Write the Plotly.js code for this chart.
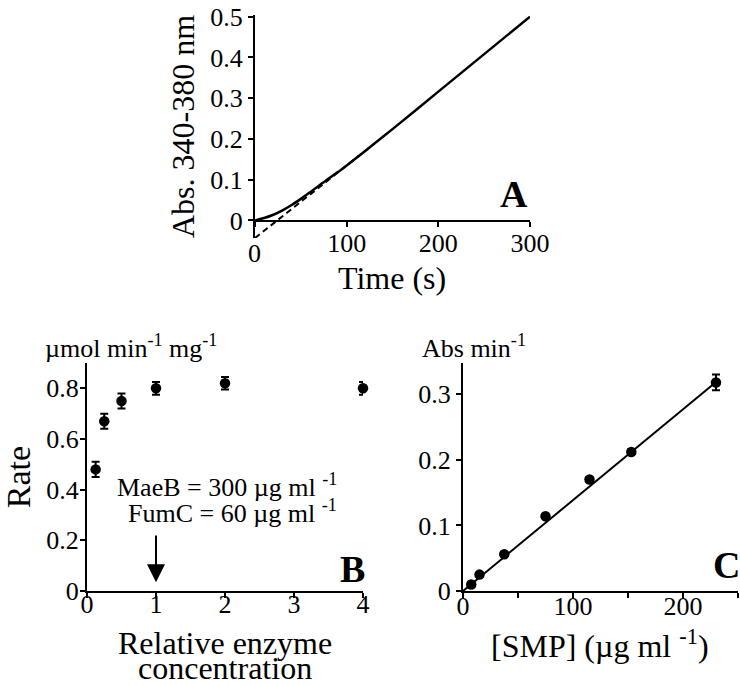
<!DOCTYPE html>
<html>
<head>
<meta charset="utf-8">
<script src="https://cdn.plot.ly/plotly-3.0.1.min.js"></script>
<style>html,body{margin:0;padding:0;background:#fff;}#chart{width:740px;height:685px;}</style>
</head>
<body>
<div id="chart"></div>
<script>
// Panel A: absorbance trace
const timeA = [0, 10, 20, 30, 40, 50, 60, 70, 80, 90, 100, 115, 130, 150, 200, 250, 300];
const absA = [0, 0.006, 0.014, 0.025, 0.038, 0.053, 0.069, 0.086, 0.102, 0.118, 0.135, 0.161, 0.188, 0.224, 0.316, 0.408, 0.500];
const timeDash = [0, 130];
const absDash = [-0.043, 0.188];
const ticksAx = [0, 100, 200, 300];
const tickTextAx = ['', '100', '200', '300'];

// Panel B: rate vs relative enzyme concentration
const relConc = [0.125, 0.25, 0.5, 1, 2, 4];
const rateB = [0.48, 0.67, 0.75, 0.80, 0.82, 0.80];
const errB = [0.03, 0.03, 0.03, 0.025, 0.025, 0.025];
const ticksBy = [0, 0.2, 0.4, 0.6, 0.8];
const ticksBx = [0, 1, 2, 3, 4];

// Panel C: rate vs [SMP]
const smp = [7.5, 15, 37.5, 75, 115, 153, 230];
const rateC = [0.010, 0.025, 0.056, 0.114, 0.170, 0.212, 0.318];
const errC = [0.003, 0.003, 0.003, 0.003, 0.003, 0.004, 0.012];
const fitX = [0, 232];
const fitY = [0, 0.3215];
const ticksCx = [0, 50, 100, 150, 200, 250];
const tickTextCx = ['0', '', '100', '', '200', ''];
const ticksCy = [0, 0.1, 0.2, 0.3];

const FONT = 'Liberation Serif, Times New Roman, serif';
const W = 740, H = 685;
const px = v => v / W;
const py = v => 1 - v / H;

const traces = [
  {x: timeA, y: absA, type: 'scatter', mode: 'lines', xaxis: 'x', yaxis: 'y',
   line: {color: '#000', width: 2.5, shape: 'spline', smoothing: 0.6}, cliponaxis: false},
  {x: timeDash, y: absDash, type: 'scatter', mode: 'lines', xaxis: 'x', yaxis: 'y',
   line: {color: '#000', width: 2, dash: '6px,4px'}, cliponaxis: false},
  {x: relConc, y: rateB, type: 'scatter', mode: 'markers', xaxis: 'x2', yaxis: 'y2',
   marker: {color: '#000', size: 10.5},
   error_y: {type: 'data', array: errB, visible: true, color: '#000', thickness: 2, width: 4},
   cliponaxis: false},
  {x: fitX, y: fitY, type: 'scatter', mode: 'lines', xaxis: 'x3', yaxis: 'y3',
   line: {color: '#000', width: 2}, cliponaxis: false},
  {x: smp, y: rateC, type: 'scatter', mode: 'markers', xaxis: 'x3', yaxis: 'y3',
   marker: {color: '#000', size: 10.5},
   error_y: {type: 'data', array: errC, visible: true, color: '#000', thickness: 2, width: 4},
   cliponaxis: false}
];

const tickFont = {family: FONT, size: 26, color: '#000'};
const titleFont = {family: FONT, size: 32, color: '#000'};
const axBase = {
  showgrid: false, zeroline: false, showline: true, linecolor: '#000', linewidth: 2,
  ticks: 'outside', ticklen: 5, tickwidth: 2, tickcolor: '#000', tickfont: tickFont,
  fixedrange: true
};
const annFont = s => ({family: FONT, size: s, color: '#000'});
const txt = (x, y, text, size, xanchor) => ({xref: 'paper', yref: 'paper', x: px(x), y: py(y), text: text,
  showarrow: false, xanchor: xanchor || 'center', yanchor: 'middle', font: annFont(size)});

const layout = {
  width: W, height: H,
  margin: {l: 0, r: 0, t: 0, b: 0},
  paper_bgcolor: '#fff', plot_bgcolor: '#fff',
  showlegend: false,
  font: {family: FONT, color: '#000'},
  xaxis: Object.assign({}, axBase, {
    domain: [px(255), px(530)], range: [0, 300], anchor: 'free', position: py(220.5),
    tickmode: 'array', tickvals: ticksAx, ticktext: tickTextAx, ticklabelstandoff: -6
  }),
  yaxis: Object.assign({}, axBase, {
    domain: [py(238), py(15)], range: [-0.043, 0.504], anchor: 'x',
    tickmode: 'linear', tick0: 0, dtick: 0.1,
    title: {text: 'Abs. 340-380 nm', font: titleFont, standoff: 6}
  }),
  xaxis2: Object.assign({}, axBase, {
    domain: [px(87), px(363)], range: [0, 4], anchor: 'y2',
    tickmode: 'array', tickvals: ticksBx, ticklabelstandoff: -16
  }),
  yaxis2: Object.assign({}, axBase, {
    domain: [py(591), py(363)], range: [0, 0.9], anchor: 'x2',
    tickmode: 'array', tickvals: ticksBy, ticklabelstandoff: -4,
    title: {text: 'Rate', font: annFont(34), standoff: 10}
  }),
  xaxis3: Object.assign({}, axBase, {
    domain: [px(463), px(738)], range: [0, 250], anchor: 'y3',
    tickmode: 'array', tickvals: ticksCx, ticktext: tickTextCx, ticklabelstandoff: -14
  }),
  yaxis3: Object.assign({}, axBase, {
    domain: [py(591), py(363)], range: [0, 0.3477], anchor: 'x3',
    tickmode: 'array', tickvals: ticksCy
  }),
  annotations: [
    txt(392, 278, 'Time (s)', 32),
    txt(225, 643, 'Relative enzyme', 32),
    txt(225, 668, 'concentration', 32),
    txt(600, 644, '[SMP] (µg ml <sup>-1</sup>)', 32),
    {xref: 'paper', yref: 'paper', x: px(514), y: py(194), text: '<b>A</b>', showarrow: false,
     xanchor: 'center', yanchor: 'middle', font: annFont(38)},
    {xref: 'paper', yref: 'paper', x: px(352), y: py(569), text: '<b>B</b>', showarrow: false,
     xanchor: 'center', yanchor: 'middle', font: annFont(38)},
    {xref: 'paper', yref: 'paper', x: px(726), y: py(565), text: '<b>C</b>', showarrow: false,
     xanchor: 'center', yanchor: 'middle', font: annFont(38)},
    txt(255, 254, '0', 26),
    txt(43, 346, 'µmol min<sup>-1</sup> mg<sup>-1</sup>', 26, 'left'),
    txt(420, 346, 'Abs min<sup>-1</sup>', 26, 'left'),
    txt(339, 486, 'MaeB = 300 µg ml <sup>-1</sup>', 26, 'right'),
    txt(339, 512, 'FumC = 60 µg ml <sup>-1</sup>', 26, 'right'),
    {xref: 'x2', yref: 'y2', axref: 'x2', ayref: 'y2', x: 1, y: 0.035, ax: 1, ay: 0.225,
     text: '', showarrow: true, arrowhead: 2, arrowsize: 1.8, arrowwidth: 2, arrowcolor: '#000'}
  ]
};

Plotly.newPlot('chart', traces, layout, {staticPlot: true, displayModeBar: false});
</script>
</body>
</html>
